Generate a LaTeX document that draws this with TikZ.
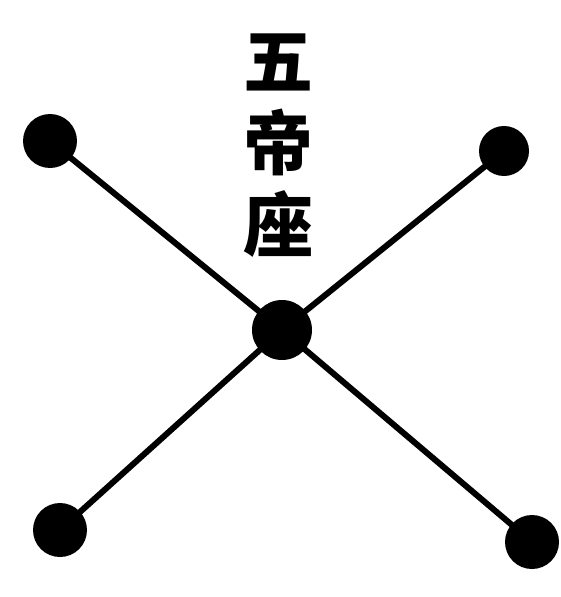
\documentclass[tikz,border=0pt]{standalone}
\usepackage{fontspec}
\newfontfamily\cjk{Noto Sans CJK SC}
\usetikzlibrary{positioning}
\tikzset{
  star/.style={circle, fill=black, inner sep=0pt, minimum size=54pt},
  bigstar/.style={star, minimum size=60pt},
  link/.style={draw=black, line width=6pt, line cap=round}
}

\begin{document}
\begin{tikzpicture}[x=1pt, y=-1pt]
  \useasboundingbox (0,0) rectangle (560,597);
  % the five stars
  \node[bigstar] (zhong) at (282,330) {};
  \node[star]    (xibei) at (50,141)  {};
  \node[star, minimum size=50pt] (dongbei) at (504,151) {};
  \node[star]    (xinan) at (60,530)  {};
  \node[star]    (dongnan) at (532,542) {};
  \foreach \s in {xibei, dongbei, xinan, dongnan}
    \draw[link] (zhong) -- (\s);
  % name of the asterism
  \node[font=\cjk\bfseries\fontsize{70}{82}\selectfont, align=center,
        inner sep=0pt] (ming) at (278,146) {五\\帝\\座};
\end{tikzpicture}
\end{document}
